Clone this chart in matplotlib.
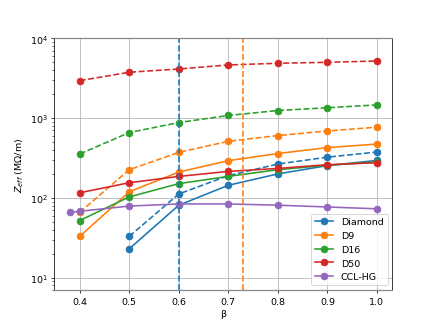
import matplotlib
matplotlib.use("Agg")
import matplotlib.pyplot as plt

# beta values
beta = [0.4, 0.5, 0.6, 0.7, 0.8, 0.9, 1.0]
beta_diamond = [0.5, 0.6, 0.7, 0.8, 0.9, 1.0]
beta_ccl = [0.38, 0.4, 0.5, 0.6, 0.7, 0.8, 0.9, 1.0]

# Zeff values (MOhm/m), solid lines
diamond = [23, 81, 144, 200, 254, 295]
d9 = [33, 119, 211, 293, 360, 427, 473]
d16 = [52, 103, 151, 186, 226, 256, 282]
d50 = [116, 155, 186, 215, 234, 261, 276]
ccl_hg = [66, 68, 79, 84, 84, 81, 77, 73]

# dashed lines
diamond_dash = [33, 112, 190, 266, 324, 376]
d9_dash = [66, 226, 372, 512, 605, 690, 770]
d16_dash = [355, 660, 880, 1080, 1245, 1350, 1465]
d50_dash = [2950, 3760, 4130, 4640, 4870, 5010, 5200]

plt.rcParams['lines.linewidth'] = 1.7
plt.rcParams['lines.markersize'] = 7

fig, ax = plt.subplots(figsize=(6.4, 4.8), dpi=68.1)

ax.plot(beta_diamond, diamond, marker='o', color='C0', label='Diamond')
ax.plot(beta_diamond, diamond_dash, marker='o', linestyle='--', color='C0')
ax.plot(beta, d9, marker='o', color='C1', label='D9')
ax.plot(beta, d9_dash, marker='o', linestyle='--', color='C1')
ax.plot(beta, d16, marker='o', color='C2', label='D16')
ax.plot(beta, d16_dash, marker='o', linestyle='--', color='C2')
ax.plot(beta, d50, marker='o', color='C3', label='D50')
ax.plot(beta, d50_dash, marker='o', linestyle='--', color='C3')
ax.plot(beta_ccl, ccl_hg, marker='o', color='C4', label='CCL-HG')

ax.axvline(0.6, color='C0', linestyle='--')
ax.axvline(0.73, color='C1', linestyle='--')

ax.set_yscale('log')
ax.set_ylim(7, 1e4)
ax.grid(True)
for side in ['top', 'bottom']:
    ax.spines[side].set_color('#888888')
    ax.spines[side].set_linewidth(1.3)
ax.set_xlabel('β')
ax.set_ylabel('$Z_{eff}$ (MΩ/m)')
ax.legend(loc='lower right')

fig.savefig('out.png')
